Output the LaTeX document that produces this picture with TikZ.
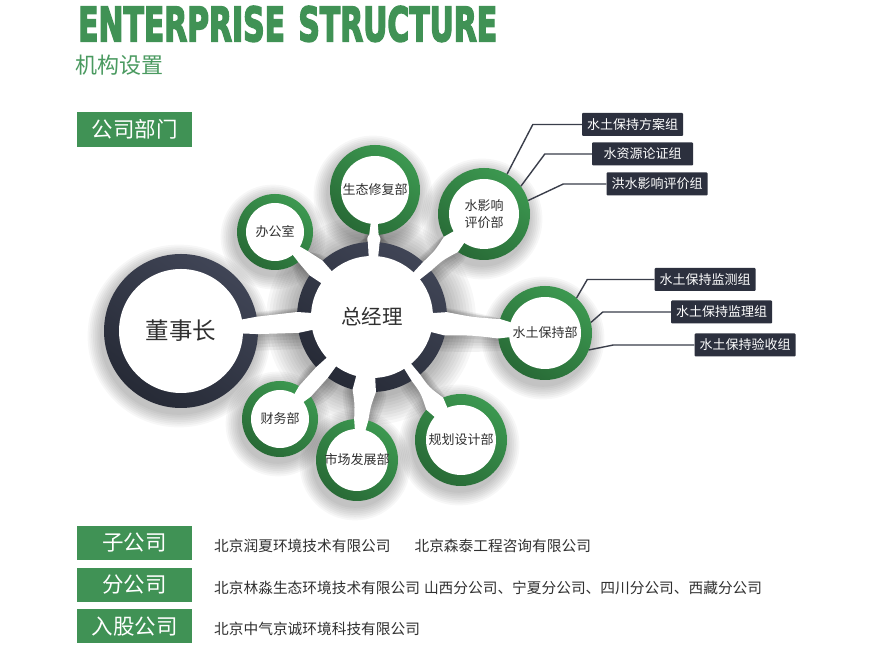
\documentclass[tikz,border=0pt]{standalone}
\usepackage{fontspec}
\usepackage{graphicx}
\newfontfamily\cjk{Noto Sans CJK SC}
\newfontfamily\titlefont[BoldFeatures={FakeBold=4}]{DejaVu Sans}
\usetikzlibrary{calc}
\definecolor{gbox}{RGB}{64,146,85}
\definecolor{gtxt}{RGB}{74,154,96}
\definecolor{navyd}{RGB}{38,42,54}
\definecolor{navyl}{RGB}{64,69,86}
\definecolor{gringl}{RGB}{60,152,80}
\definecolor{gringd}{RGB}{40,106,54}
\definecolor{lbl}{RGB}{48,48,48}
\definecolor{subfill}{RGB}{44,48,62}
\definecolor{lead}{RGB}{58,62,74}
\tikzset{
  neckfill/.style={fill=white},
  gring/.style={top color=gringl, bottom color=gringd, shading angle=-35},
  nring/.style={top color=navyl, bottom color=navyd, shading angle=-35},
  grpbox/.style={fill=subfill, text=white, minimum width=101pt, minimum height=23pt, inner sep=0pt, rounded corners=1pt, font=\cjk\fontsize{13}{13}\selectfont},
  greenbox/.style={fill=gbox, text=white, minimum width=115pt, minimum height=34pt, inner sep=0pt, font=\cjk\fontsize{21.5}{21.5}\selectfont},
  hub/.style={circle, inner sep=0pt, text=lbl, align=center, font=\cjk\fontsize{13}{16.5}\selectfont},
  leader/.style={draw=lead, line width=1.4pt},
  bodytext/.style={anchor=west, inner sep=0pt, text=lbl, font=\cjk\fontsize{14.7}{14.7}\selectfont},
}
\def\nkEA{0}\def\nkEW{0}
% neck from the centre circle (372,330), R=75, to a satellite
% #1 sx #2 sy #3 r #4 half gap angle on centre #5 half gap angle on satellite #6 waist control
\newcommand\neckshape[6]{%
  \pgfmathsetmacro\nkTh{atan2(#2-330,#1-372)}%
  \pgfmathsetmacro\nkD{veclen(#1-372,#2-330)}%
  \pgfmathsetmacro\nkU{(75+\nkD-#3)/2}%
  \pgfmathsetmacro\nkAa{#4+\nkEA}%
  \pgfmathsetmacro\nkBb{#5+\nkEA}%
  \pgfmathsetmacro\nkW{#6+\nkEW}%
  \pgfmathsetmacro\nkAx{75*cos(\nkAa)}%
  \pgfmathsetmacro\nkAy{75*sin(\nkAa)}%
  \pgfmathsetmacro\nkBx{\nkD-#3*cos(\nkBb)}%
  \pgfmathsetmacro\nkBy{#3*sin(\nkBb)}%
  \begin{scope}[shift={(372,330)}, rotate=\nkTh]
  \fill[neckfill] (0,0) -- (\nkAx,\nkAy)
     .. controls (\nkU,\nkW) .. (\nkBx,\nkBy)
     -- (\nkD,0) -- (\nkBx,-\nkBy)
     .. controls (\nkU,-\nkW) .. (\nkAx,-\nkAy) -- cycle;
  \end{scope}
}
\newcommand\allnecks{%
  \neckshape{181}{316}{77}{8}{6.5}{9}%
  \neckshape{375}{457}{45}{4.5}{6}{7}%
  \neckshape{275}{415}{38}{7.5}{11}{8}%
  \neckshape{484}{433}{46}{4.5}{13}{6}%
  \neckshape{545}{314}{47}{9}{12}{9}%
  \neckshape{461}{207}{46}{4}{13}{5}%
  \neckshape{357}{187}{41}{9}{10}{8}%
  \neckshape{280}{228}{38}{6}{12}{8}%
}
\newcommand\cshadow[3]{%
  \foreach \k in {1,...,8}{\fill[black, opacity=0.03] (#1-2,#2-5) circle ({#3+\k*1.8});}%
}
\newcommand\ringdisc[5]{%
  \shade[#5] (#1,#2) circle (#3);
  \fill[white] (#1,#2) circle (#3-#4);
}
\begin{document}
\begin{tikzpicture}[x=1pt,y=1pt]
\useasboundingbox (0,0) rectangle (883,647);
\fill[white] (0,0) rectangle (883,647);

% title
\node[anchor=south west, inner sep=0pt, text=gbox] (title) at (78,605)
  {\resizebox{419pt}{35pt}{\titlefont\bfseries ENTERPRISE\hspace{0.45em}STRUCTURE}};
\node[anchor=west, inner sep=0pt, text=gtxt, font=\cjk\fontsize{22}{22}\selectfont] (subtitle) at (75,582) {机构设置};
\node[greenbox, minimum height=35pt] (dept) at (134.5,517.5) {公司部门};

% shadows
\foreach \k in {1,...,10}{\fill[black, opacity=0.032] (371,327) circle ({75+\k*3});}
\cshadow{181}{316}{77}
\cshadow{375}{457}{45}
\cshadow{275}{415}{38}
\cshadow{484}{433}{46}
\cshadow{545}{314}{47}
\cshadow{461}{207}{46}
\cshadow{357}{187}{41}
\cshadow{280}{228}{38}
\foreach \k in {1,...,5}{%
  \begin{scope}[shift={(0,-1.2*\k)}]
    \pgfmathsetmacro\nkEA{1.6*\k}\pgfmathsetmacro\nkEW{2.2*\k}%
    \tikzset{neckfill/.style={fill=black, opacity=0.05}}
    \allnecks
  \end{scope}
}

% rings
\ringdisc{372}{330}{75}{14}{nring}
\ringdisc{181}{316}{77}{15}{nring}
\ringdisc{375}{457}{45}{11}{gring}
\ringdisc{275}{415}{38}{9}{gring}
\ringdisc{484}{433}{46}{11}{gring}
\ringdisc{545}{314}{47}{11}{gring}
\ringdisc{461}{207}{46}{11}{gring}
\ringdisc{357}{187}{41}{10}{gring}
\ringdisc{280}{228}{38}{9}{gring}

% necks
\allnecks

% hub nodes
\node[hub, minimum size=150pt, font=\cjk\fontsize{20.5}{20.5}\selectfont] (gm) at (372,330) {总经理};
\node[hub, minimum size=154pt, font=\cjk\fontsize{23.5}{23.5}\selectfont] (ceo) at (181,316) {董事长};
\node[hub, minimum size=90pt] (st1) at (375,457) {生态修复部};
\node[hub, minimum size=76pt] (bgs) at (275,415) {办公室};
\node[hub, minimum size=92pt] (wy) at (484,433) {水影响\\评价部};
\node[hub, minimum size=94pt] (st) at (545,314) {水土保持部};
\node[hub, minimum size=92pt] (gh) at (461,207) {规划设计部};
\node[hub, minimum size=82pt] (sc) at (357,187) {市场发展部};
\node[hub, minimum size=76pt] (cw) at (280,228) {财务部};

% groups
\node[grpbox] (g1) at (632.5,522.5) {水土保持方案组};
\node[grpbox] (g2) at (642.5,493) {水资源论证组};
\node[grpbox] (g3) at (657,463) {洪水影响评价组};
\node[grpbox] (g4) at (705,367.5) {水土保持监测组};
\node[grpbox] (g5) at (721.5,335) {水土保持监理组};
\node[grpbox] (g6) at (745,302) {水土保持验收组};
\draw[leader] (g1.west) -- ++(-49,0) -- (wy.60);
\draw[leader] (g2.west) -- ++(-47,0) -- (wy.37);
\draw[leader] (g3.west) -- ++(-43,0) -- (wy.17);
\draw[leader] (g4.west) -- ++(-67,0) -- (st.48);
\draw[leader] (g5.west) -- ++(-68,0) -- (st.13);
\draw[leader] (g6.west) -- ++(-81,0) -- (st.-21);

% bottom
\node[greenbox] (zgs) at (134.5,104) {子公司};
\node[greenbox] (fgs) at (134.5,62) {分公司};
\node[greenbox] (rgs) at (134.5,20.5) {入股公司};
\node[bodytext] (t1) at (214,101.5) {北京润夏环境技术有限公司\hspace{24pt}北京森泰工程咨询有限公司};
\node[bodytext] (t2) at (214,59.5) {北京林淼生态环境技术有限公司\hspace{4pt}山西分公司、宁夏分公司、四川分公司、西藏分公司};
\node[bodytext] (t3) at (214,18) {北京中气京诚环境科技有限公司};
\end{tikzpicture}
\end{document}
